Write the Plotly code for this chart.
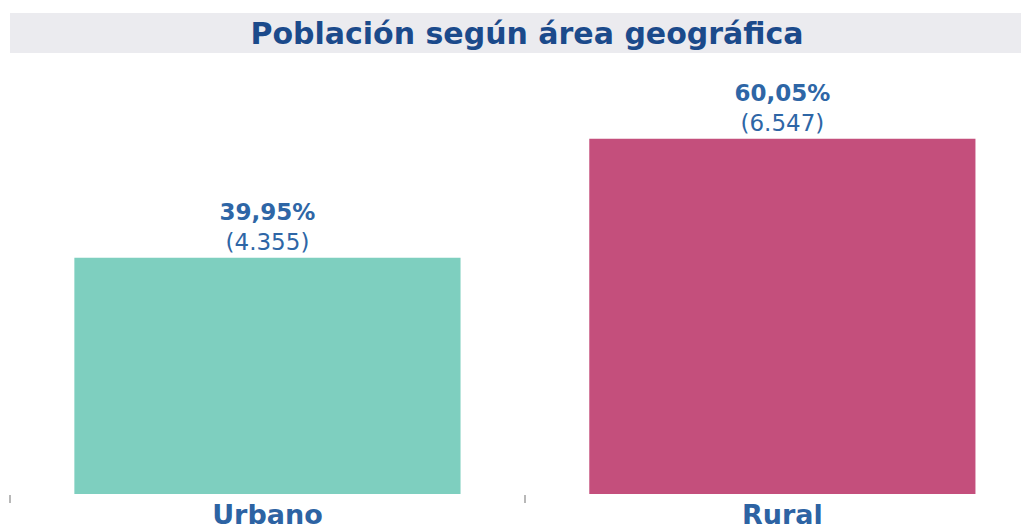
import plotly.graph_objects as go

categories = ["Urbano", "Rural"]
percentages = [39.95, 60.05]
counts = [4355, 6547]
bar_colors = ["#7ecfbf", "#c44f7c"]
title_text = "Población según área geográfica"

def fmt_pct(v):
    return f"{v:.2f}".replace(".", ",") + "%"

def fmt_count(v):
    return f"{v:,}".replace(",", ".")

labels = [f"<b>{fmt_pct(p)}</b><br>({fmt_count(c)})" for p, c in zip(percentages, counts)]

FONT = "DejaVu Sans"
LABEL_COLOR = "#2e66a6"

# page body has an 8px margin; figure is sized/offset to compensate
W, H = 1021, 522
M_L, M_T, M_B = 2, 72, 36
PLOT_H = H - M_T - M_B  # 414

fig = go.Figure(
    go.Bar(
        x=categories,
        y=percentages,
        marker=dict(color=bar_colors, line=dict(width=0)),
        text=labels,
        texttemplate="%{text}",
        textposition="outside",
        textfont=dict(family=FONT, size=23, color=LABEL_COLOR),
        cliponaxis=False,
        hoverinfo="skip",
    )
)

fig.update_layout(
    width=W,
    height=H,
    margin=dict(l=M_L, r=0, t=M_T, b=M_B),
    paper_bgcolor="white",
    plot_bgcolor="white",
    bargap=0.25,
    showlegend=False,
    title=dict(
        text="<b>" + title_text + "</b>",
        x=519 / W,
        xref="container",
        xanchor="center",
        y=1 - 25 / H,
        yref="container",
        yanchor="middle",
        font=dict(family=FONT, size=30, color="#1b4a8b"),
    ),
    shapes=[
        dict(
            type="rect",
            xref="paper",
            yref="paper",
            x0=0,
            x1=1,
            y0=(PLOT_H - (53 - 80)) / PLOT_H,
            y1=(PLOT_H - (13 - 80)) / PLOT_H,
            fillcolor="#ebebef",
            line=dict(width=0),
            layer="below",
        )
    ],
)

fig.update_xaxes(
    range=[-0.5, 1.479],
    tickson="boundaries",
    ticks="outside",
    ticklen=8,
    tickwidth=2,
    tickcolor="#b8b8b8",
    showline=False,
    showgrid=False,
    automargin=False,
    ticklabelstandoff=2,
    tickfont=dict(family=FONT, size=27, color="#2d63a3"),
    tickprefix="<b>",
    ticksuffix="</b>",
)
fig.update_yaxes(
    range=[0, 70],
    visible=False,
    showgrid=False,
    zeroline=False,
)

fig.write_html("out.html")
